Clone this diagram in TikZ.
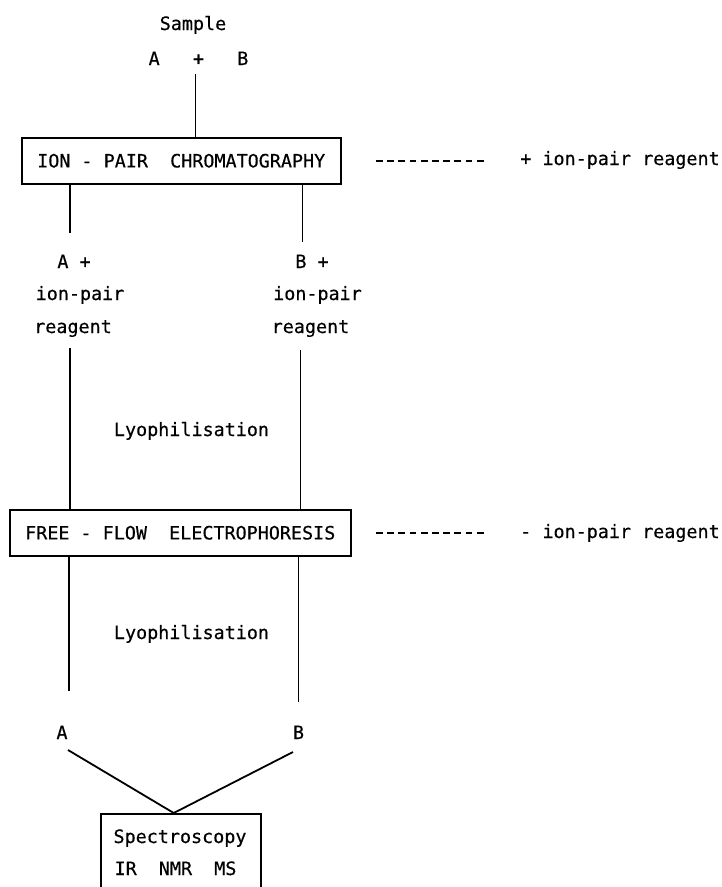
\documentclass[tikz,border=0pt]{standalone}
\usepackage{fontspec}
\newfontfamily\typewriter[UprightFeatures={FakeBold=0.4}]{DejaVu Sans Mono}
\begin{document}
\begin{tikzpicture}[x=1pt,y=-1pt,
  every node/.style={font=\typewriter\fontsize{18.4}{22}\selectfont, inner sep=0pt},
  txt/.style={anchor=base},
  stage/.style={draw, line width=1.5pt, anchor=north west},
  link/.style={line width=1.8pt},
  dashline/.style={line width=1.5pt, dash pattern=on 6.8pt off 4.4pt}]
\useasboundingbox (0,0) rectangle (721,887);
\clip (0,0) rectangle (721,887);

% process stages
\node[stage, minimum width=319pt, minimum height=46pt] (ipc) at (21,137) {ION - PAIR~~CHROMATOGRAPHY};
\node[stage, minimum width=341pt, minimum height=46pt] (ffe) at (9,509) {FREE - FLOW~~ELECTROPHORESIS};
\node[stage, minimum width=160pt, minimum height=90pt] (spec) at (100,813) {};

% labels
\node[txt] (sample) at (193,30) {Sample};
\node[txt] (ab) at (198.5,65) {A~~~+~~~B};
\node[txt] (addreag) at (620,165) {+ ion-pair reagent};
\node[txt] (remreag) at (620,538) {- ion-pair reagent};
\node[txt] (aplus) at (74,268) {A +};
\node[txt] (aion) at (80,300) {ion-pair};
\node[txt] (areag) at (73,333) {reagent};
\node[txt] (bplus) at (312,268) {B +};
\node[txt] (bion) at (317.5,300) {ion-pair};
\node[txt] (breag) at (310.5,333) {reagent};
\node[txt] (lyo1) at (191.5,436) {Lyophilisation};
\node[txt] (lyo2) at (191.5,639) {Lyophilisation};
\node[txt] (aout) at (62,739) {A};
\node[txt] (bout) at (298.5,739) {B};
\node[txt] (spectitle) at (180,843) {Spectroscopy};
\node[txt] (spectech) at (175.5,875) {IR~~NMR~~MS};

% flow lines
\coordinate (feedtop) at (195.5,74);
\draw[link] (feedtop) -- (feedtop |- ipc.north);
\coordinate (aleave) at (70,233);
\draw[link] (aleave |- ipc.south) -- (aleave);
\coordinate (bleave) at (302.5,242);
\draw[link] (bleave |- ipc.south) -- (bleave);
\coordinate (aarrive) at (70,348);
\draw[link] (aarrive) -- (aarrive |- ffe.north);
\coordinate (barrive) at (300.5,350);
\draw[link] (barrive) -- (barrive |- ffe.north);
\coordinate (adone) at (69,691);
\draw[link] (adone |- ffe.south) -- (adone);
\coordinate (bdone) at (298.5,702);
\draw[link] (bdone |- ffe.south) -- (bdone);
\coordinate (join) at ([xshift=-7pt]spec.north);
\draw[link] ([shift={(6,11)}]aout.base) -- (join) -- ([shift={(-5.5,13)}]bout.base);

% reagent added / removed
\draw[dashline] ([xshift=34.5pt]ipc.east) -- ([xshift=142pt]ipc.east);
\draw[dashline] ([xshift=24.5pt]ffe.east) -- ([xshift=132pt]ffe.east);
\end{tikzpicture}
\end{document}
